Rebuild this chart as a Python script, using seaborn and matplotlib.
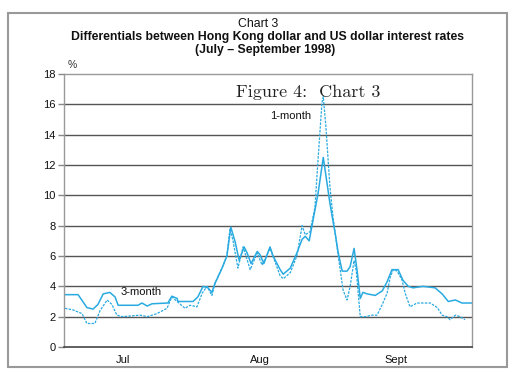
import matplotlib
matplotlib.use("Agg")
import matplotlib.pyplot as plt
import seaborn as sns
import pandas as pd
from matplotlib.patches import Rectangle

# days counted from 1 July 1998
day_3m = [-13.2, -10.2, -8.2, -6.8, -5.7, -4.5, -3.0, -1.8, -1.1, 3.4, 4.3, 5.5, 6.6,
          10.2, 11.1, 12.3, 12.5, 15.9, 17.0, 18.2, 19.3, 20.2, 20.9, 22.5, 23.6, 24.5,
          25.5, 26.4, 27.5, 28.2, 29.1, 30.5, 31.1, 32.0, 33.4, 34.1, 35.7, 36.4, 38.0,
          39.5, 40.7, 41.4, 42.3, 43.2, 44.3, 45.5, 45.9, 47.0, 47.7, 48.2, 48.9, 49.8,
          50.9, 51.6, 52.5, 53.2, 53.9, 54.5, 55.5, 57.3, 58.9, 60.0, 61.1, 62.5, 63.6,
          64.8, 65.9, 68.2, 70.9, 72.5, 73.9, 75.5, 77.0, 79.3]
rate_3m = [3.45, 3.45, 2.6, 2.5, 2.8, 3.5, 3.6, 3.3, 2.75, 2.75, 2.9, 2.7, 2.85,
           2.9, 3.35, 3.2, 3.0, 3.0, 3.3, 4.0, 3.9, 3.6, 4.2, 5.2, 6.0, 7.9,
           6.9, 5.7, 6.6, 6.2, 5.5, 6.3, 6.1, 5.5, 6.6, 6.0, 5.1, 4.8, 5.2,
           6.2, 7.1, 7.3, 7.0, 8.4, 10.1, 12.5, 11.7, 9.5, 8.3, 7.5, 6.2, 5.0,
           5.0, 5.3, 6.5, 5.0, 3.2, 3.6, 3.5, 3.4, 3.7, 4.3, 5.1, 5.1, 4.4,
           4.0, 3.9, 4.0, 3.9, 3.5, 3.0, 3.1, 2.9, 2.9]

day_1m = [-13.2, -11.4, -9.3, -8.2, -6.4, -5.2, -3.6, -2.5, -1.4, -0.2, 3.9, 5.5, 7.7,
          10.0, 11.1, 12.3, 14.1, 15.2, 16.8, 18.0, 19.1, 20.2, 20.9, 22.5, 23.6, 24.3,
          25.0, 26.1, 27.3, 28.9, 30.5, 31.6, 33.4, 35.7, 36.4, 38.0, 39.5, 40.7, 41.4,
          42.5, 43.6, 44.3, 45.2, 45.5, 46.1, 47.0, 47.7, 48.9, 50.0, 50.9, 51.6, 52.5,
          53.0, 53.9, 55.0, 56.6, 57.7, 58.9, 60.0, 60.7, 61.4, 62.3, 63.4, 64.1, 65.2,
          66.8, 69.8, 71.4, 72.5, 73.6, 74.3, 75.5, 76.6, 77.7]
rate_1m = [2.55, 2.45, 2.2, 1.55, 1.55, 2.4, 3.1, 2.8, 2.1, 2.0, 2.1, 2.0, 2.2,
           2.55, 3.3, 3.0, 2.55, 2.75, 2.65, 3.55, 4.0, 3.4, 4.2, 5.2, 6.0, 7.8,
           7.0, 5.2, 6.6, 5.1, 6.2, 5.4, 6.5, 4.7, 4.5, 4.9, 6.0, 8.0, 7.4,
           7.6, 9.2, 12.3, 16.1, 16.5, 14.5, 10.6, 8.6, 6.0, 3.75, 3.1, 4.0, 5.7,
           5.0, 2.0, 2.0, 2.1, 2.1, 2.8, 3.55, 4.6, 5.1, 5.0, 4.4, 3.55, 2.65,
           2.9, 2.9, 2.6, 2.1, 2.0, 1.8, 2.1, 2.0, 1.8]

month_days = [0, 31, 62]
month_labels = ["Jul", "Aug", "Sept"]
y_ticks = [0, 2, 4, 6, 8, 10, 12, 14, 16, 18]

df3 = pd.DataFrame({"day": day_3m, "rate": rate_3m})
df1 = pd.DataFrame({"day": day_1m, "rate": rate_1m})

sns.set_style("white")
plt.rcParams["font.family"] = ["Liberation Sans", "DejaVu Sans"]

blue = "#29aae1"
fig = plt.figure(figsize=(5.12, 3.72), dpi=100)
ax = fig.add_axes([0.125, 0.0672, 0.797, 0.734])

sns.lineplot(data=df3, x="day", y="rate", ax=ax, color=blue, lw=1.1)
sns.lineplot(data=df1, x="day", y="rate", ax=ax, color=blue, lw=0.9, linestyle=(0, (2, 1)))

for v in y_ticks[1:-1]:
    ax.axhline(v, color="#555555", lw=1.0, zorder=0)

ax.set_xlim(-13.4, 79.3)
ax.set_ylim(0, 18)
ax.set_yticks(y_ticks)
ax.set_xticks(month_days)
ax.set_xticklabels(month_labels, fontsize=8, color="#111111")
ax.set_yticklabels([str(v) for v in y_ticks], fontsize=8, color="#111111")
ax.set_xlabel("")
ax.set_ylabel("")
ax.tick_params(axis="x", direction="inout", length=7, width=1, color="#333333", pad=2)
ax.tick_params(axis="y", direction="out", length=4, width=1, color="#888888", pad=2, left=True)
for side in ["top", "right", "left"]:
    ax.spines[side].set_color("#999999")
    ax.spines[side].set_linewidth(1.0)
ax.spines["bottom"].set_color("#444444")
ax.spines["bottom"].set_linewidth(1.2)

ax.text(-12.6, 18.4, "%", fontsize=7.5, color="#333333")
ax.text(25.7, 16.5, "Figure 4:  Chart 3", fontsize=13, family="cmr10", color="#222222")
ax.text(33.4, 15.0, "1-month", fontsize=8, color="#111111")
ax.text(-0.5, 3.4, "3-month", fontsize=8, color="#111111")

fig.text(0.504, 0.935, "Chart 3", ha="center", va="center", fontsize=8.8, color="#111111")
fig.text(0.523, 0.9005, "Differentials between Hong Kong dollar and US dollar interest rates",
         ha="center", va="center", fontsize=8.8, fontweight="bold", color="#111111")
fig.text(0.518, 0.866, "(July \u2013 September 1998)", ha="center", va="center", fontsize=8.8,
         fontweight="bold", color="#111111")

fig.add_artist(Rectangle((0.0156, 0.0134), 0.975, 0.952, transform=fig.transFigure,
                         fill=False, edgecolor="#999999", lw=1.5))

fig.savefig("out.png", dpi=100)
